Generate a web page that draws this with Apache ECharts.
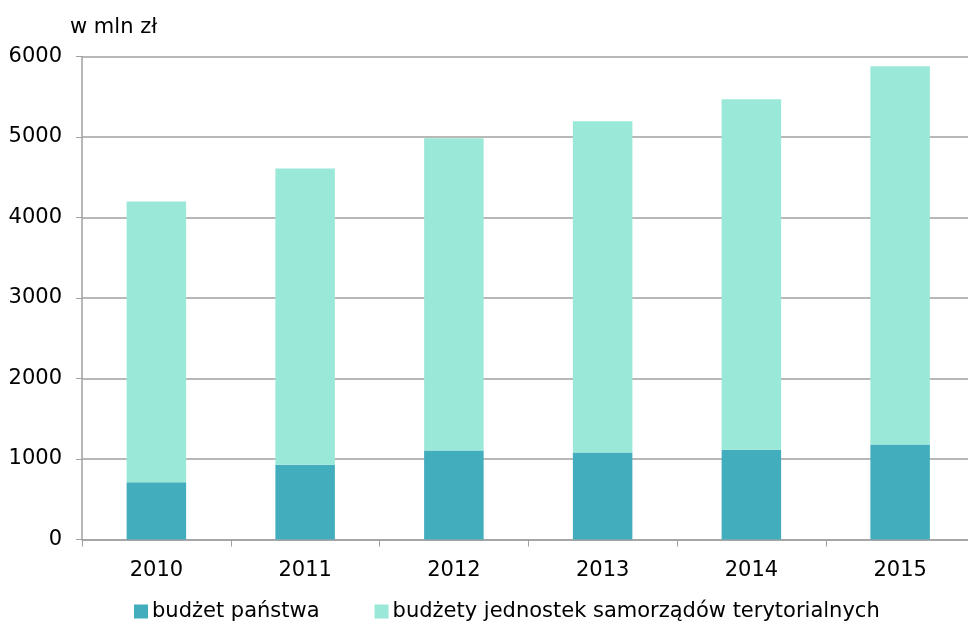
<!DOCTYPE html>
<html><head><meta charset="utf-8">
<script src="https://cdn.jsdelivr.net/npm/echarts@6/dist/echarts.min.js"></script>
<style>html,body{margin:0;padding:0;background:#fff;overflow:hidden;width:968px;height:625px}#c{width:980px;height:625px}</style>
</head><body><div id="c"></div>
<script>
const categories = ['2010','2011','2012','2013','2014','2015'];
const budzetPanstwa = [710, 930, 1105, 1080, 1115, 1180];
const totals = [4200, 4610, 4985, 5195, 5470, 5880];
const budzetyJST = totals.map((t,i)=>t-budzetPanstwa[i]);
const yTicks = [0,1000,2000,3000,4000,5000,6000];
const font = 'DejaVu Sans, Verdana, sans-serif';
const chart = echarts.init(document.getElementById('c'));
chart.setOption({
  animation:false,
  textStyle:{fontFamily:font},
  title:{text:'w mln zł',left:65,top:12,textStyle:{fontFamily:font,fontSize:21,fontWeight:'normal',color:'#000'}},
  grid:{left:82,top:56.5,width:892.5,height:483},
  legend:{bottom:-2,left:129,itemWidth:14,itemHeight:14,itemGap:55,icon:'rect',
    textStyle:{fontFamily:font,fontSize:21,color:'#000',padding:[0,0,0,-1]},
    data:['budżet państwa','budżety jednostek samorządów terytorialnych']},
  xAxis:{type:'category',data:categories,
    axisLine:{lineStyle:{color:'#a0a0a0',width:1.5}},
    axisTick:{show:true,alignWithLabel:false,length:7,lineStyle:{color:'#a0a0a0'}},
    axisLabel:{color:'#000',fontSize:21,margin:21,fontFamily:font}},
  yAxis:{type:'value',min:0,max:6000,interval:1000,
    axisLine:{show:true,lineStyle:{color:'#a0a0a0',width:1.5}},
    axisTick:{show:true,length:6,lineStyle:{color:'#a0a0a0'}},
    splitLine:{lineStyle:{color:'#a0a0a0',width:1.5}},
    axisLabel:{color:'#000',fontSize:21,margin:20,fontFamily:font,
      formatter:v=>yTicks.includes(v)?String(v):''}},
  series:[
    {name:'budżet państwa',type:'bar',stack:'a',data:budzetPanstwa,barWidth:'40%',itemStyle:{color:'#41adbd'}},
    {name:'budżety jednostek samorządów terytorialnych',type:'bar',stack:'a',data:budzetyJST,barWidth:'40%',itemStyle:{color:'#9ae9d8'}}
  ]
});
</script></body></html>
